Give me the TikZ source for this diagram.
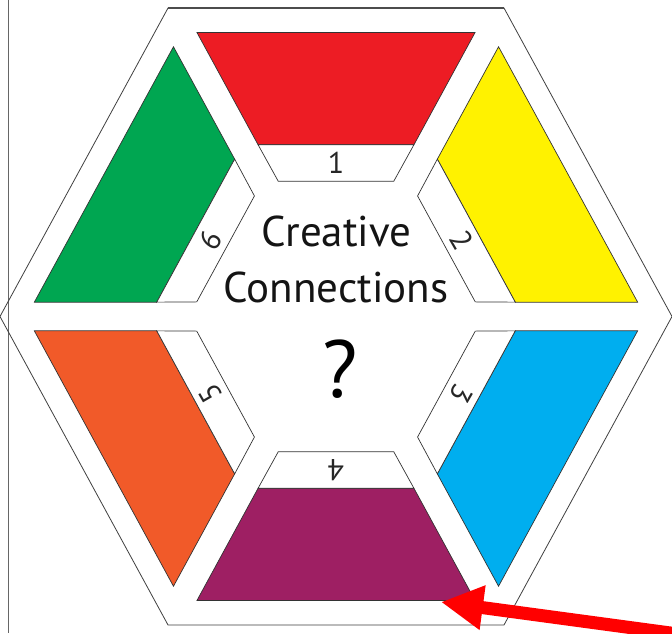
\documentclass[tikz,border=0pt]{standalone}
\usepackage{fontspec}
\setmainfont{PT Sans}
\usetikzlibrary{arrows.meta}
\definecolor{cred}{HTML}{ED1C24}
\definecolor{cyellow}{HTML}{FFF200}
\definecolor{cblue}{HTML}{00AEEF}
\definecolor{cpurple}{HTML}{9E1F63}
\definecolor{corange}{HTML}{F15A29}
\definecolor{cgreen}{HTML}{00A651}
\definecolor{outline}{HTML}{333333}
\tikzset{
  piecefill/.style={draw=outline, line width=0.7pt, line join=miter},
  stripbox/.style={draw=outline, fill=white, line width=0.7pt},
  numlabel/.style={font=\fontsize{30}{34}\selectfont, text=black!85, inner sep=0pt},
  titletext/.style={font=\fontsize{43}{50}\selectfont, text=black!92, inner sep=0pt, anchor=base},
  hexline/.style={draw=black!75, line width=0.8pt, line join=miter},
  pointer/.style={draw=red, line width=13pt, -{Triangle[length=42pt,width=42pt]}}
}
\begin{document}
\begin{tikzpicture}[x=1pt,y=1pt]
  \useasboundingbox (0,0) rectangle (672,633);
  \clip (0,0) rectangle (672,633);
  \fill[white] (0,0) rectangle (672,633);
  % left frame line
  \draw[black!60, line width=0.8pt] (8,633) -- (8,0);
  \begin{scope}[shift={(336,316.5)}, yscale=1.06]
    % outer hexagon
    \draw[hexline] (-336,0) -- (-168,291) -- (168,291) -- (336,0) -- (168,-291) -- (-168,-291) -- cycle;
    \draw[black!70, line width=1.5pt] (-168,291) -- (168,291);
    \foreach \ang/\col/\num in {90/cred/1, 30/cyellow/2, -30/cblue/3, -90/cpurple/4, -150/corange/5, 150/cgreen/6} {
      \begin{scope}[rotate=\ang-90]
        \fill[piecefill, fill=\col] (-139.1,268) -- (139.1,268) -- (77.9,162) -- (-77.9,162) -- cycle;
        \draw[stripbox] (-77.9,162) -- (77.9,162) -- (57.7,127.5) -- (-57.7,127.5) -- cycle;
        \node[numlabel, rotate=\ang-90] (lab\num) at (0,144.8) {\num};
      \end{scope}
    }
  \end{scope}
  % centre text
  \node[titletext] (creative) at (336.5,386) {Creative};
  \node[titletext] (connections) at (336,331) {Connections};
  \node[inner sep=0pt, anchor=base, text=black, font=\fontsize{81}{90}\selectfont] (qmark) at (340,236) {?};
  % red pointer arrow
  \coordinate (arrowstart) at (700,-4);
  \coordinate (arrowtip) at (441,31);
  \draw[pointer] (arrowstart) -- (arrowtip);
\end{tikzpicture}
\end{document}
